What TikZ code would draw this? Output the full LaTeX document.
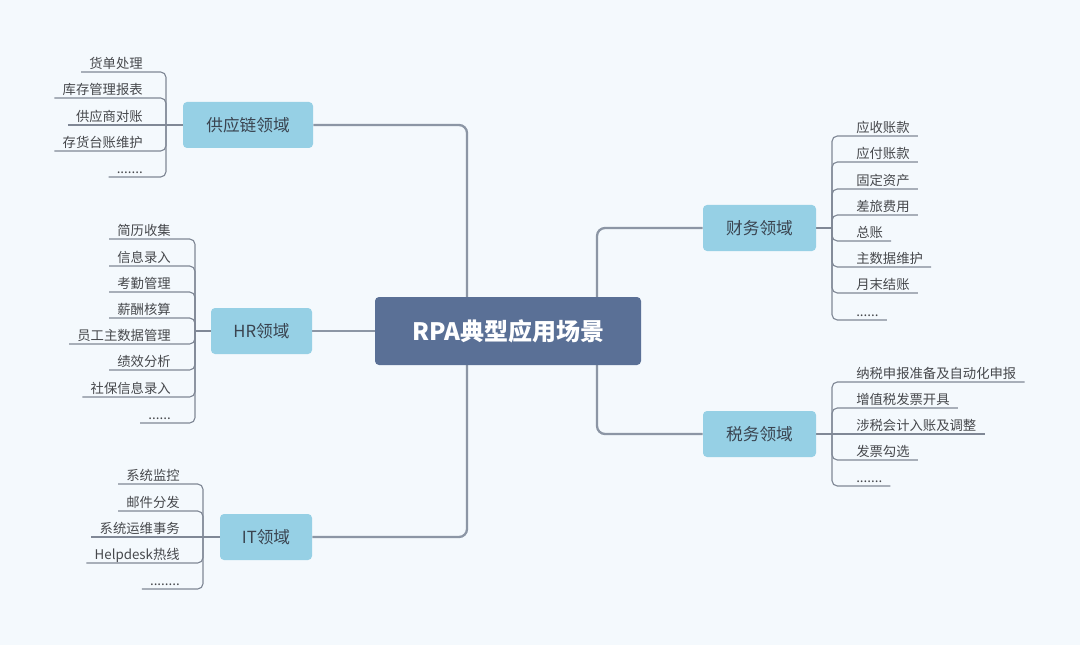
\documentclass[tikz,border=0pt]{standalone}
\usepackage{fontspec}
\setmainfont{Noto Sans CJK SC}
\usetikzlibrary{backgrounds}
\pgfdeclarelayer{bottom}
\pgfsetlayers{bottom,background,main}
\definecolor{bgc}{RGB}{244,249,253}
\definecolor{rootc}{RGB}{90,112,150}
\definecolor{boxc}{RGB}{150,208,229}
\definecolor{trunkc}{RGB}{140,150,165}
\definecolor{leafc}{RGB}{128,136,150}
\definecolor{txtc}{RGB}{70,72,76}
\definecolor{boxtxt}{RGB}{58,68,80}
\tikzset{
  root/.style={fill=rootc, rounded corners=3pt, minimum width=199.5pt, minimum height=51pt,
    text=white, font=\bfseries\fontsize{18}{20}\selectfont, inner sep=0pt},
  area/.style={fill=boxc, rounded corners=3pt, minimum height=34.5pt,
    text=boxtxt, font=\fontsize{12.5}{14}\selectfont, inner sep=0pt},
  leafL/.style={anchor=south east, inner xsep=6pt, inner ysep=2.4pt, text height=8pt, text depth=0pt,
    text=txtc, font=\fontsize{10}{12}\selectfont},
  leafR/.style={anchor=south west, inner xsep=6pt, inner ysep=2.4pt, text height=8pt, text depth=0pt,
    text=txtc, font=\fontsize{10}{12}\selectfont},
  trunk/.style={draw=trunkc, line width=1.7pt, rounded corners=6pt},
  hrline/.style={draw=trunkc, line width=1.1pt},
  leafline/.style={draw=leafc, line width=0.85pt, rounded corners=4pt},
}
\begin{document}
\begin{tikzpicture}[x=0.75pt,y=-0.75pt]
\begin{pgfonlayer}{bottom}
\fill[bgc] (0,0) rectangle (1080,645);
\end{pgfonlayer}
\useasboundingbox (0,0) rectangle (1080,645);

% root and areas
\node[root] (c) at (508,331) {RPA典型应用场景};
\node[area, minimum width=97.5pt] (sc) at (248,125) {供应链领域};
\node[area, minimum width=75.75pt] (hr) at (261.5,331) {HR领域};
\node[area, minimum width=69pt] (it) at (266,537) {IT领域};
\node[area, minimum width=84.75pt] (fin) at (759.5,228) {财务领域};
\node[area, minimum width=84.75pt] (tax) at (759.5,434) {税务领域};

% bracket points
\coordinate (bs) at (166,125);
\coordinate (bh) at (195,331);
\coordinate (bi) at (203,537);
\coordinate (bf) at (832,228);
\coordinate (bt) at (832,434);
\coordinate (tL) at (467,331);
\coordinate (tR) at (597,331);

% supply chain leaves
\node[leafL] (s1) at (151,72) {货单处理};
\node[leafL] (s2) at (151,98) {库存管理报表};
\node[leafL] (s3) at (151,125) {供应商对账};
\node[leafL] (s4) at (151,151) {存货台账维护};
\node[leafL] (s5) at (151,177) {.......};

% HR leaves
\node[leafL] (h1) at (179,239) {简历收集};
\node[leafL] (h2) at (179,266) {信息录入};
\node[leafL] (h3) at (179,292) {考勤管理};
\node[leafL] (h4) at (179,318) {薪酬核算};
\node[leafL] (h5) at (179,344) {员工主数据管理};
\node[leafL] (h6) at (179,370) {绩效分析};
\node[leafL] (h7) at (179,397) {社保信息录入};
\node[leafL] (h8) at (179,423) {......};

% IT leaves
\node[leafL] (i1) at (188,484) {系统监控};
\node[leafL] (i2) at (188,511) {邮件分发};
\node[leafL] (i3) at (188,537) {系统运维事务};
\node[leafL] (i4) at (188,563) {Helpdesk热线};
\node[leafL] (i5) at (188,589) {........};

% finance leaves
\node[leafR] (f1) at (848,136) {应收账款};
\node[leafR] (f2) at (848,162) {应付账款};
\node[leafR] (f3) at (848,189) {固定资产};
\node[leafR] (f4) at (848,215) {差旅费用};
\node[leafR] (f5) at (848,241) {总账};
\node[leafR] (f6) at (848,267) {主数据维护};
\node[leafR] (f7) at (848,293) {月末结账};
\node[leafR] (f8) at (848,320) {......};

% tax leaves
\node[leafR] (x1) at (848,382) {纳税申报准备及自动化申报};
\node[leafR] (x2) at (848,408) {增值税发票开具};
\node[leafR] (x3) at (848,434) {涉税会计入账及调整};
\node[leafR] (x4) at (848,460) {发票勾选};
\node[leafR] (x5) at (848,486) {.......};

\begin{pgfonlayer}{background}
% trunk
\draw[trunk] (tL) |- (sc.east);
\draw[trunk] (tL) |- (it.east);
\draw[trunk] (tR) |- (fin.west);
\draw[trunk] (tR) |- (tax.west);
\draw[hrline] (c.west) -- (hr.east);

% area to bracket
\draw[leafline] (sc.west) -- (bs);
\draw[leafline] (hr.west) -- (bh);
\draw[leafline] (it.west) -- (bi);
\draw[leafline] (fin.east) -- (bf);
\draw[leafline] (tax.east) -- (bt);

% supply
\foreach \n in {s1,s2,s4,s5} \draw[leafline] (\n.south west) -| (bs);
\draw[leafline] (s3.south west) -- (bs);
% HR
\foreach \n in {h1,h2,h3,h4,h5,h6,h7,h8} \draw[leafline] (\n.south west) -| (bh);
% IT
\foreach \n in {i1,i2,i4,i5} \draw[leafline] (\n.south west) -| (bi);
\draw[leafline] (i3.south west) -- (bi);
% finance
\foreach \n in {f1,f2,f3,f4,f5,f6,f7,f8} \draw[leafline] (\n.south east) -| (bf);
% tax
\foreach \n in {x1,x2,x4,x5} \draw[leafline] (\n.south east) -| (bt);
\draw[leafline] (x3.south east) -- (bt);
\end{pgfonlayer}
\end{tikzpicture}
\end{document}
